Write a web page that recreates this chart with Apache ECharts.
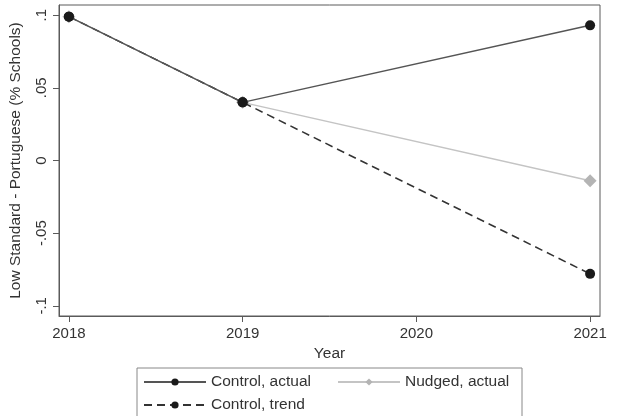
<!DOCTYPE html>
<html>
<head>
<meta charset="utf-8">
<script src="https://cdn.jsdelivr.net/npm/echarts@6/dist/echarts.min.js"></script>
<style>
  html, body { margin: 0; padding: 0; background: #fff; }
  #chart { width: 617px; height: 416px; }
</style>
</head>
<body>
<div id="chart"></div>
<script>
// Years on the x axis
const years = [2018, 2019, 2021];
// Share of schools at low standard in Portuguese
const controlActual = [0.099, 0.040, 0.093];
const nudgedActual = [0.099, 0.040, -0.014];
const controlTrend = [0.099, 0.040, -0.078];

const xTicks = [2018, 2019, 2020, 2021];
const yTicks = [-0.1, -0.05, 0, 0.05, 0.1];
const yTickLabels = ['-.1', '-.05', '0', '.05', '.1'];

const pairs = vals => years.map((y, i) => [y, vals[i]]);

const font = '"Liberation Sans", Arial, sans-serif';
const frame = '#5a5a5a';

const chart = echarts.init(document.getElementById('chart'), null, { renderer: 'canvas' });

chart.setOption({
  animation: false,
  backgroundColor: '#fff',
  textStyle: { fontFamily: font },
  grid: {
    left: 57, top: 5, right: 17, bottom: 100,
    show: true, borderColor: frame, borderWidth: 1, backgroundColor: '#fff'
  },
  xAxis: {
    type: 'value',
    min: 2017.943, max: 2021.057,
    name: 'Year', nameLocation: 'middle', nameGap: 27,
    nameTextStyle: { fontSize: 15.5, color: '#333', fontFamily: font },
    axisLine: { show: true, onZero: false, lineStyle: { color: frame } },
    axisTick: { show: true, length: 6, customValues: xTicks, lineStyle: { color: frame } },
    axisLabel: {
      customValues: xTicks, margin: 10, fontSize: 15, color: '#333', fontFamily: font,
      formatter: v => String(Math.round(v))
    },
    splitLine: { show: false }
  },
  yAxis: {
    type: 'value',
    min: -0.107, max: 0.107,
    name: 'Low Standard - Portuguese (% Schools)', nameLocation: 'middle', nameGap: 35,
    nameTextStyle: { fontSize: 15.5, color: '#333', fontFamily: font },
    axisLine: { show: true, onZero: false, lineStyle: { color: frame } },
    axisTick: { show: true, length: 6, customValues: yTicks, lineStyle: { color: frame } },
    axisLabel: {
      customValues: yTicks, rotate: 90, margin: 10, fontSize: 15, color: '#333', fontFamily: font,
      formatter: v => {
        const i = yTicks.findIndex(t => Math.abs(t - v) < 1e-9);
        return i >= 0 ? yTickLabels[i] : '';
      }
    },
    splitLine: { show: false }
  },
  legend: {
    left: 137, top: 368,
    width: 400,
    padding: [6, 10, 12, 6],
    borderColor: '#888', borderWidth: 1,
    itemWidth: 62, itemHeight: 9, itemGap: 7,
    textStyle: { fontSize: 15.5, color: '#333', fontFamily: font, lineHeight: 16 },
    data: [
      { name: 'Control, actual', textStyle: { width: 119 } },
      { name: 'Nudged, actual', textStyle: { width: 107 } },
      { name: 'Control, trend', textStyle: { width: 119 } }
    ]
  },
  series: [
    {
      name: 'Nudged, actual', type: 'line', data: pairs(nudgedActual),
      symbol: 'diamond', symbolSize: 13,
      itemStyle: { color: '#b4b4b4' },
      lineStyle: { color: '#c4c4c4', width: 1.5 },
      z: 2
    },
    {
      name: 'Control, trend', type: 'line', data: pairs(controlTrend),
      symbol: 'circle', symbolSize: 10,
      itemStyle: { color: '#1a1a1a' },
      lineStyle: { color: '#333', width: 1.5, type: [8, 5] },
      z: 3
    },
    {
      name: 'Control, actual', type: 'line', data: pairs(controlActual),
      symbol: 'circle', symbolSize: 10,
      itemStyle: { color: '#1a1a1a' },
      lineStyle: { color: '#555', width: 1.5 },
      z: 4
    }
  ]
});
</script>
</body>
</html>
